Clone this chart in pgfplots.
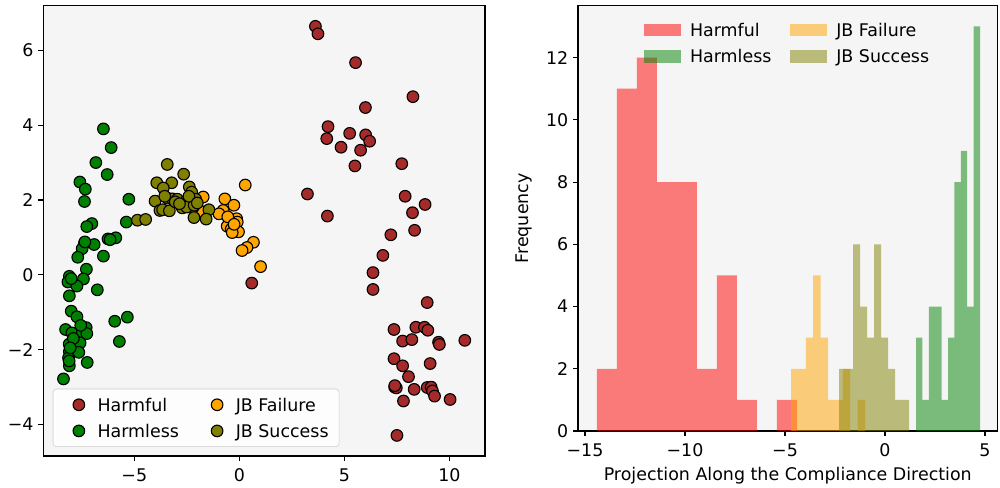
\documentclass[border=0pt]{standalone}
\usepackage{fontspec}
\setmainfont{DejaVu Sans}
\usepackage{pgfplots}
\pgfplotsset{compat=1.18}
\definecolor{bgc}{HTML}{F5F5F5}
\definecolor{cbrown}{HTML}{A52A2A}
\definecolor{cgreen}{HTML}{008000}
\definecolor{corange}{HTML}{FFA500}
\definecolor{colive}{HTML}{808000}
\definecolor{cred}{HTML}{FF0000}
\definecolor{legbg}{HTML}{FDFDFD}
\newcommand\fs{\fontsize{12.6pt}{15pt}\selectfont}
\pgfplotsset{
  common/.style={
    scale only axis,
    anchor=south west,
    axis background/.style={fill=bgc},
    axis line style={black, line width=0.8pt},
    tick align=outside,
    xtick pos=bottom, ytick pos=left,
    major tick length=3.5pt,
    tick style={black, line width=0.8pt},
    tick label style={font=\fs},
    xticklabel style={yshift=-2pt},
    label style={font=\fs},
    legend style={font=\fs},
  },
}
\begin{document}
\begin{tikzpicture}[font=\fs]
\useasboundingbox (0pt,0pt) rectangle (722.7pt,351.95pt);
\begin{axis}[common, at={(31.3pt,22.4pt)}, width=319.2pt, height=325.4pt,
  xmin=-9.33, xmax=11.69, ymin=-4.84, ymax=7.19,
  xtick={-5,0,5,10}, xticklabels={−5,0,5,10},
  ytick={-4,-2,0,2,4,6}, yticklabels={−4,−2,0,2,4,6},
  legend columns=2, legend cell align=left,
  legend image code/.code={\draw[#1] plot coordinates {(0pt,0pt)}; \path (-10.9pt,0pt) (5.1pt,0pt);},
  legend style={at={(0.0213,0.02)}, anchor=south west, draw=black!20, fill=legbg,
    rounded corners=2.5pt, inner xsep=7.6pt, inner ysep=6.8pt,
    nodes={inner sep=0pt, text height=9.2pt, text depth=0pt}, row sep=9.7pt,
    /tikz/every odd column/.append style={column sep=8.2pt},
    /tikz/every even column/.append style={column sep=16.5pt}},
  scat/.style={only marks, mark=*, mark size=4.2pt, mark options={draw=black, fill=#1, line width=0.8pt}},
]
\addlegendimage{scat=cbrown}\addlegendentry{Harmful}
\addlegendimage{scat=corange}\addlegendentry{JB Failure}
\addlegendimage{scat=cgreen}\addlegendentry{Harmless}
\addlegendimage{scat=colive}\addlegendentry{JB Success}
\addplot[scat=cbrown, forget plot] table {
3.62 6.64
3.74 6.44
5.53 5.67
8.26 4.76
6.00 4.47
4.22 3.96
4.16 3.64
5.25 3.78
6.01 3.74
6.20 3.57
4.84 3.41
5.77 3.33
5.50 2.91
7.73 2.97
3.24 2.16
7.89 2.10
8.84 1.88
4.19 1.57
8.24 1.66
7.21 1.07
8.34 1.19
6.83 0.52
6.36 0.06
6.36 -0.39
8.94 -0.74
7.36 -1.46
8.40 -1.40
8.81 -1.40
8.97 -1.48
7.77 -1.77
8.21 -1.73
9.48 -1.80
9.52 -1.86
10.73 -1.75
7.36 -2.24
7.77 -2.43
9.08 -2.37
8.05 -2.72
7.39 -3.00
7.47 -3.02
8.32 -3.06
8.94 -3.01
9.13 -3.00
9.19 -3.10
9.29 -3.24
10.03 -3.33
7.81 -3.37
7.50 -4.29
0.59 -0.22
7.40 -2.96
};
\addplot[scat=cgreen, forget plot] table {
-6.47 3.90
-6.10 3.40
-6.83 3.00
-6.29 2.68
-7.59 2.48
-7.33 2.29
-5.26 2.02
-7.37 1.96
-7.02 1.37
-7.26 1.29
-5.38 1.41
-6.25 0.96
-5.88 0.99
-6.15 0.94
-7.37 0.85
-6.91 0.81
-7.48 0.70
-7.69 0.47
-6.47 0.50
-7.28 0.15
-8.09 -0.04
-8.16 -0.19
-7.42 -0.11
-7.73 -0.30
-6.76 -0.40
-8.09 -0.56
-8.00 -0.97
-7.73 -1.12
-5.93 -1.24
-5.33 -1.13
-8.27 -1.46
-7.97 -1.55
-7.47 -1.53
-7.29 -1.41
-7.26 -1.57
-5.71 -1.78
-7.58 -1.82
-8.10 -1.85
-8.09 -2.05
-7.64 -2.07
-8.13 -2.22
-8.09 -2.43
-7.24 -2.34
-8.37 -2.78
-7.90 -1.70
-8.05 -1.95
-7.55 -1.35
-8.00 -0.10
-7.35 0.88
-8.10 -2.30
};
\addplot[scat=corange, forget plot] table {
0.28 2.40
-1.72 2.08
-0.69 2.03
-0.26 1.86
-0.77 1.72
-0.97 1.63
-0.48 1.45
-0.13 1.50
-0.10 1.41
-0.58 1.30
-0.39 1.22
-0.04 1.15
-0.34 1.13
0.67 0.87
0.36 0.73
0.13 0.65
1.01 0.22
-0.55 1.55
-0.25 1.35
-1.85 1.70
};
\addplot[scat=colive, forget plot] table {
-3.43 2.95
-2.65 2.69
-3.93 2.46
-3.22 2.46
-3.62 2.32
-2.38 2.35
-2.27 2.21
-4.01 1.97
-3.43 2.05
-3.19 2.03
-2.95 2.02
-2.51 1.99
-2.08 2.02
-3.78 1.72
-3.65 1.74
-3.33 1.71
-2.72 1.79
-2.19 1.81
-1.45 1.74
-2.16 1.53
-1.58 1.49
-4.85 1.46
-4.46 1.48
-2.51 1.81
-2.15 1.86
-3.05 1.95
-2.85 1.90
-2.40 2.10
-3.55 2.10
-2.00 1.92
};
\end{axis}
\begin{axis}[common, at={(417.7pt,40.47pt)}, width=303.2pt, height=307.4pt,
  xmin=-15.35, xmax=5.625, ymin=0, ymax=13.67,
  xtick={-15,-10,-5,0,5}, xticklabels={−15,−10,−5,0,5},
  ytick={0,2,4,6,8,10,12}, yticklabels={0,2,4,6,8,10,12},
  xlabel={Projection Along the Compliance Direction}, ylabel={Frequency},
  xlabel style={yshift=-1pt}, ylabel style={yshift=3pt},
  legend columns=2, legend cell align=left,
  legend image code/.code={\fill[#1] (0pt,-4.5pt) rectangle (26.7pt,4.5pt);},
  legend style={at={(0.157,0.959)}, anchor=north west, draw=none, fill=none, inner sep=0pt,
    nodes={inner sep=0pt, text height=9.2pt, text depth=0pt}, row sep=10.2pt,
    /tikz/every odd column/.append style={column sep=6.5pt},
    /tikz/every even column/.append style={column sep=13.7pt}},
  hist/.style={ybar interval, fill=#1, fill opacity=0.5, draw=none},
]
\addlegendimage{fill=cred, fill opacity=0.5, draw=none}\addlegendentry{Harmful}
\addlegendimage{fill=corange, fill opacity=0.5, draw=none}\addlegendentry{JB Failure}
\addlegendimage{fill=cgreen, fill opacity=0.5, draw=none}\addlegendentry{Harmless}
\addlegendimage{fill=colive, fill opacity=0.5, draw=none}\addlegendentry{JB Success}
\addplot[hist=cred, forget plot] coordinates {(-14.4,2) (-13.4,11) (-12.4,12) (-11.4,8) (-10.4,8) (-9.4,2) (-8.4,5) (-7.4,1) (-6.4,0) (-5.4,1) (-4.4,0)};
\addplot[hist=cgreen, forget plot] coordinates {(1.55,3) (1.87,1) (2.19,4) (2.51,4) (2.83,1) (3.15,3) (3.47,8) (3.79,9) (4.11,4) (4.43,13) (4.75,0)};
\addplot[hist=corange, forget plot] coordinates {(-4.70,2) (-4.33,2) (-3.96,3) (-3.59,5) (-3.22,3) (-2.85,1) (-2.48,1) (-2.11,2) (-1.74,0) (-1.37,1) (-1.00,0)};
\addplot[hist=colive, forget plot] coordinates {(-2.30,2) (-1.95,2) (-1.60,6) (-1.25,4) (-0.90,3) (-0.55,6) (-0.20,3) (0.15,2) (0.50,1) (0.85,1) (1.20,0)};
\end{axis}
\end{tikzpicture}
\end{document}
